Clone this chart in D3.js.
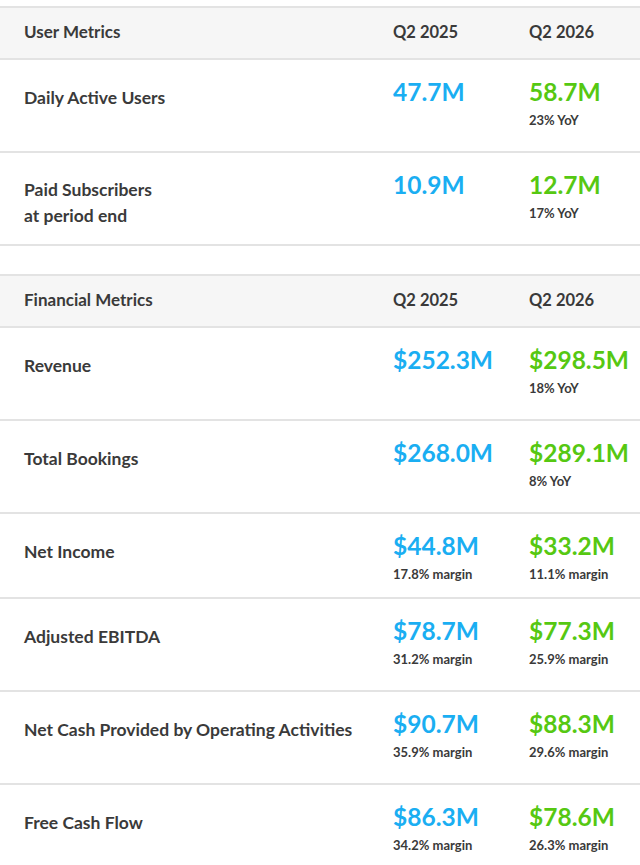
<!DOCTYPE html>
<html><head><meta charset="utf-8">
<script src="https://cdn.jsdelivr.net/npm/d3@7"></script>
<style>body{margin:0;background:#fff;}text{font-family:Lato,"Noto Sans",sans-serif;font-weight:bold;}</style>
</head><body><svg id="chart" width="640" height="865"></svg>
<script>
var columns = ["Q2 2025", "Q2 2026"];
var sections = ["User Metrics", "Financial Metrics"];
var userMetrics = [["Daily Active Users"], ["Paid Subscribers", "at period end"]];
var userPrev = ["47.7M", "10.9M"];
var userCurr = ["58.7M", "12.7M"];
var userNotes = ["23% YoY", "17% YoY"];
var finMetrics = [["Revenue"], ["Total Bookings"], ["Net Income"], ["Adjusted EBITDA"], ["Net Cash Provided by Operating Activities"], ["Free Cash Flow"]];
var finPrev = ["$252.3M", "$268.0M", "$44.8M", "$78.7M", "$90.7M", "$86.3M"];
var finCurr = ["$298.5M", "$289.1M", "$33.2M", "$77.3M", "$88.3M", "$78.6M"];
var finPrevNotes = ["", "", "17.8% margin", "31.2% margin", "35.9% margin", "34.2% margin"];
var finCurrNotes = ["18% YoY", "8% YoY", "11.1% margin", "25.9% margin", "29.6% margin", "26.3% margin"];
var finRowH = [93, 93, 85, 93, 93, 93];

var svg = d3.select("#chart");
var x = d3.scaleOrdinal().domain(["label"].concat(columns)).range([24, 393, 529]);
var blue = "#1aaef2", green = "#56c812", dark = "#3a3a3a", line = "#e3e3e3";

function section(top, title, labels, prev, curr, prevNotes, currNotes, heights) {
  svg.append("rect").attr("x", 0).attr("y", top).attr("width", 640).attr("height", 52).attr("fill", "#f6f6f6");
  svg.append("rect").attr("x", 0).attr("y", top - 1).attr("width", 640).attr("height", 2).attr("fill", line);
  svg.append("rect").attr("x", 0).attr("y", top + 51).attr("width", 640).attr("height", 2).attr("fill", line);
  svg.append("text").attr("x", x("label")).attr("y", top + 31).attr("font-size", 17).attr("fill", dark).text(title);
  columns.forEach(function (c) {
    svg.append("text").attr("x", x(c)).attr("y", top + 31).attr("font-size", 16.5).attr("fill", dark).text(c);
  });
  var y = top + 52;
  labels.forEach(function (lab, i) {
    var g = svg.append("g").attr("transform", "translate(0," + y + ")");
    lab.forEach(function (t, j) {
      g.append("text").attr("x", x("label")).attr("y", (lab.length > 1 ? 44 : 45) + j * 26)
        .attr("font-size", 17.5).attr("fill", dark).text(t);
    });
    g.append("text").attr("x", x(columns[0])).attr("y", 42).attr("font-size", 24.5).attr("fill", blue).text(prev[i]);
    g.append("text").attr("x", x(columns[1])).attr("y", 42).attr("font-size", 24.5).attr("fill", green).text(curr[i]);
    if (prevNotes[i]) g.append("text").attr("x", x(columns[0])).attr("y", 66).attr("font-size", 13).attr("fill", dark).text(prevNotes[i]);
    if (currNotes[i]) g.append("text").attr("x", x(columns[1])).attr("y", 66).attr("font-size", 13).attr("fill", dark).text(currNotes[i]);
    y += heights[i];
    svg.append("rect").attr("x", 0).attr("y", y - 1).attr("width", 640).attr("height", 2).attr("fill", line);
  });
}

section(7, sections[0], userMetrics, userPrev, userCurr, ["", ""], userNotes, [93, 93]);
section(275, sections[1], finMetrics, finPrev, finCurr, finPrevNotes, finCurrNotes, finRowH);
</script></body></html>
